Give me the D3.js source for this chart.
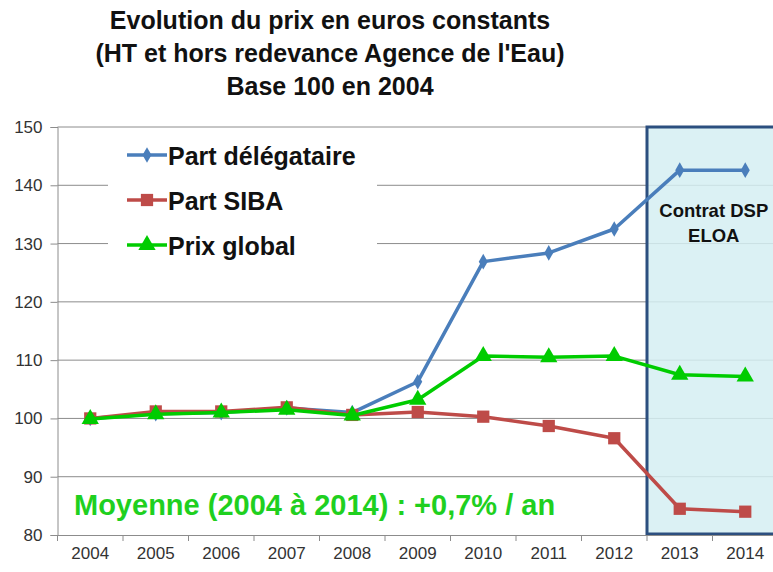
<!DOCTYPE html>
<html>
<head>
<meta charset="utf-8">
<script src="https://cdn.jsdelivr.net/npm/d3@7"></script>
<style>
  body { margin: 0; background: #fff; }
  svg { display: block; font-family: Arial, "Liberation Sans", sans-serif; }
</style>
</head>
<body>
<div id="chart"></div>
<script>
// Data
const years = ['2004', '2005', '2006', '2007', '2008', '2009', '2010', '2011', '2012', '2013', '2014'];
const partDelegataire = [100, 100.8, 101.0, 101.8, 101.0, 106.3, 126.9, 128.4, 132.5, 142.6, 142.6];
const partSiba = [100, 101.2, 101.2, 101.9, 100.6, 101.1, 100.3, 98.7, 96.6, 84.5, 84.0];
const prixGlobal = [99.9, 100.7, 101.0, 101.5, 100.5, 103.2, 110.7, 110.5, 110.7, 107.5, 107.2];
const yTicks = [80, 90, 100, 110, 120, 130, 140, 150];
const titleLines = ['Evolution du prix en euros constants', "(HT et hors redevance Agence de l'Eau)", 'Base 100 en 2004'];

const series = [
  { name: 'Part délégataire', values: partDelegataire, color: '#4a7ebb', marker: 'diamond' },
  { name: 'Part SIBA', values: partSiba, color: '#be4b48', marker: 'square' },
  { name: 'Prix global', values: prixGlobal, color: '#00cc00', marker: 'triangle' }
];

const width = 773, height = 572;
const margin = { top: 127, left: 57.5, bottom: 37 };
const innerWidth = 720.5;
const innerHeight = height - margin.top - margin.bottom;

const svg = d3.select('#chart').append('svg')
  .attr('width', width)
  .attr('height', height);

// Title
svg.append('text')
  .attr('x', 330)
  .attr('y', 29)
  .attr('text-anchor', 'middle')
  .attr('font-size', 25)
  .attr('font-weight', 'bold')
  .attr('fill', '#111')
  .selectAll('tspan')
  .data(titleLines)
  .enter()
  .append('tspan')
  .attr('x', 330)
  .attr('dy', (d, i) => i === 0 ? 0 : 33)
  .text(d => d);

const g = svg.append('g')
  .attr('transform', `translate(${margin.left}, ${margin.top})`);

// Scales
const xScale = d3.scaleBand()
  .domain(years)
  .range([0, innerWidth]);

const yScale = d3.scaleLinear()
  .domain([80, 150])
  .range([innerHeight, 0]);

const xPos = d => xScale(d) + xScale.bandwidth() / 2;

// Gridlines
g.append('g')
  .selectAll('line')
  .data(yTicks.slice(1))
  .enter()
  .append('line')
  .attr('x1', 0)
  .attr('x2', innerWidth)
  .attr('y1', d => yScale(d))
  .attr('y2', d => yScale(d))
  .attr('stroke', '#8c8c8c')
  .attr('stroke-width', 1);

// Highlight box for the DSP contract (2013-2014)
g.append('rect')
  .attr('x', xScale('2013'))
  .attr('y', yScale(150))
  .attr('width', xScale.bandwidth() * 2 + 20)
  .attr('height', yScale(80) - yScale(150) - 1)
  .attr('fill', '#d5eef2')
  .attr('fill-opacity', 0.85)
  .attr('stroke', '#2c4f7f')
  .attr('stroke-width', 3);

g.append('text')
  .attr('x', xPos('2013') + 34)
  .attr('y', yScale(134.5))
  .attr('text-anchor', 'middle')
  .attr('font-size', 18.5)
  .attr('font-weight', 'bold')
  .attr('fill', '#111')
  .selectAll('tspan')
  .data(['Contrat DSP', 'ELOA'])
  .enter()
  .append('tspan')
  .attr('x', xPos('2013') + 34)
  .attr('dy', (d, i) => i === 0 ? 0 : 25)
  .text(d => d);

// Y axis
const yAxis = d3.axisLeft(yScale).tickValues(yTicks).tickSize(7).tickPadding(8);
const yAxisG = g.append('g').call(yAxis);
yAxisG.select('.domain').attr('stroke', '#8c8c8c');
yAxisG.selectAll('.tick line').attr('stroke', '#8c8c8c');
yAxisG.selectAll('.tick text')
  .attr('font-size', 17)
  .attr('fill', '#333')
  .attr('font-family', 'Arial, "Liberation Sans", sans-serif');

// X axis
const xAxis = d3.axisBottom(xScale).tickSize(0).tickPadding(12);
const xAxisG = g.append('g')
  .attr('transform', `translate(0, ${innerHeight})`)
  .call(xAxis);
xAxisG.select('.domain').attr('stroke', '#8c8c8c');
xAxisG.selectAll('.tick text')
  .attr('font-size', 17)
  .attr('fill', '#333')
  .attr('font-family', 'Arial, "Liberation Sans", sans-serif');

// Category boundary ticks
xAxisG.append('g')
  .selectAll('line')
  .data(years)
  .enter()
  .append('line')
  .attr('x1', d => xScale(d))
  .attr('x2', d => xScale(d))
  .attr('y1', 0)
  .attr('y2', 6)
  .attr('stroke', '#8c8c8c');

// Marker shapes
const symbolFor = {
  diamond: d3.symbol().type(d3.symbolDiamond).size(70),
  square: d3.symbol().type(d3.symbolSquare).size(150),
  triangle: d3.symbol().type(d3.symbolTriangle).size(130)
};

// Lines and markers
const line = d3.line()
  .x((d, i) => xPos(years[i]))
  .y(d => yScale(d));

series.forEach(s => {
  g.append('path')
    .datum(s.values)
    .attr('fill', 'none')
    .attr('stroke', s.color)
    .attr('stroke-width', 3.5)
    .attr('stroke-linejoin', 'round')
    .attr('d', line);

  g.selectAll(null)
    .data(s.values)
    .enter()
    .append('path')
    .attr('transform', (d, i) => `translate(${xPos(years[i])}, ${yScale(d)})`)
    .attr('d', symbolFor[s.marker]())
    .attr('fill', s.color);
});

// Legend (white box covering gridlines)
const legend = svg.append('g')
  .attr('transform', 'translate(108, 140)');

legend.append('rect')
  .attr('x', 0)
  .attr('y', 0)
  .attr('width', 269)
  .attr('height', 125)
  .attr('fill', '#fff');

const legendItems = legend.selectAll('.legend-item')
  .data(series)
  .enter()
  .append('g')
  .attr('class', 'legend-item')
  .attr('transform', (d, i) => `translate(0, ${15 + i * 45})`);

legendItems.append('line')
  .attr('x1', 19)
  .attr('x2', 59)
  .attr('stroke', d => d.color)
  .attr('stroke-width', 3.5);

legendItems.append('path')
  .attr('transform', 'translate(39, 0)')
  .attr('d', d => symbolFor[d.marker]())
  .attr('fill', d => d.color);

legendItems.append('text')
  .attr('x', 60)
  .attr('y', 10)
  .attr('font-size', 25)
  .attr('font-weight', 'bold')
  .attr('fill', '#111')
  .text(d => d.name);

// Average annotation
svg.append('text')
  .attr('x', 74)
  .attr('y', 515)
  .attr('font-size', 29)
  .attr('font-weight', 'bold')
  .attr('fill', '#1fd01f')
  .text('Moyenne (2004 à 2014) : +0,7% / an');
</script>
</body>
</html>
